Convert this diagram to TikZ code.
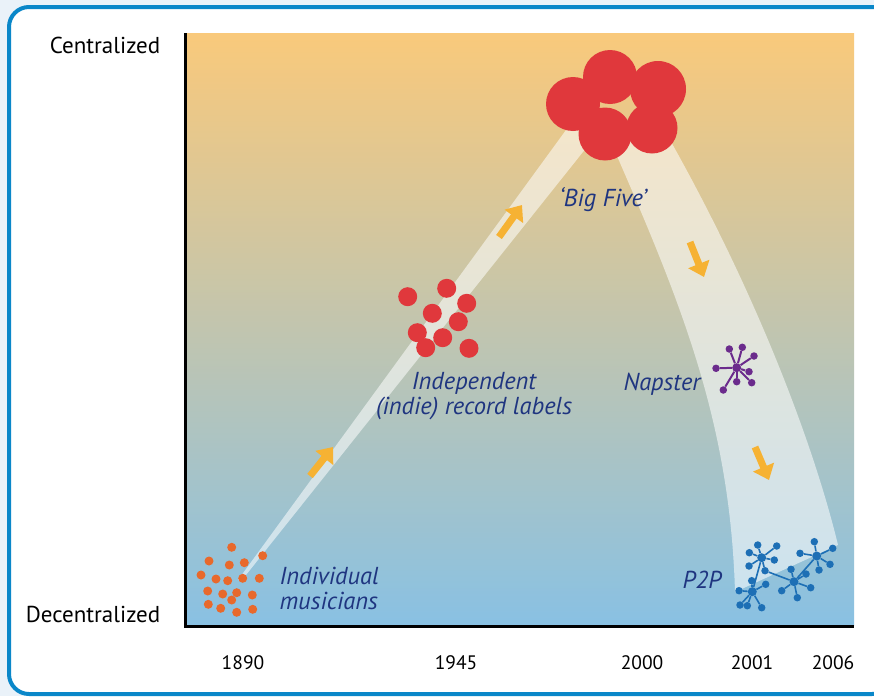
\documentclass[tikz,border=0pt]{standalone}
\usepackage{fontspec}
\setmainfont{PT Sans}
\usetikzlibrary{arrows.meta}
\definecolor{pageblue}{HTML}{EAF2F9}
\definecolor{frameblue}{HTML}{0A87C9}
\definecolor{gradtop}{HTML}{F9C97B}
\definecolor{gradbottom}{HTML}{89C1E3}
\definecolor{musicorange}{HTML}{E8692C}
\definecolor{labelred}{HTML}{E0383C}
\definecolor{napsterpurple}{HTML}{6B2B8C}
\definecolor{ptwopblue}{HTML}{1D6FB5}
\definecolor{arroworange}{HTML}{F6B233}
\definecolor{textblue}{HTML}{1F3580}
\tikzset{
  axislabel/.style={font=\fontsize{23}{25}\selectfont, text=black},
  yearlabel/.style={font=\fontsize{19.5}{21}\selectfont, text=black},
  eralabel/.style={font=\fontsize{24.5}{25}\selectfont\itshape, text=textblue},
  musician/.style={circle, fill=musicorange, inner sep=0pt, minimum size=9pt},
  indie/.style={circle, fill=labelred, inner sep=0pt, minimum size=19pt},
  major/.style={circle, fill=labelred, inner sep=0pt},
  nhub/.style={circle, fill=napsterpurple, inner sep=0pt, minimum size=9pt},
  nleaf/.style={circle, fill=napsterpurple, inner sep=0pt, minimum size=7.5pt},
  phub/.style={circle, fill=ptwopblue, inner sep=0pt, minimum size=9pt},
  pleaf/.style={circle, fill=ptwopblue, inner sep=0pt, minimum size=7.5pt},
  trend/.style={arroworange, line width=7pt, -{Triangle[width=22pt,length=14pt]}},
  band/.style={fill=white, fill opacity=0.55},
}
\begin{document}
\begin{tikzpicture}[x=1pt, y=-1pt]
\useasboundingbox (0,0) rectangle (874,696);
% page and frame
\fill[pageblue] (0,0) rectangle (874,696);
\begin{scope}
  \clip (0,0) rectangle (874,696);
  \draw[frameblue, line width=4pt, fill=white, rounded corners=20pt] (9,7) rectangle (892,694);
\end{scope}
% plot area
\shade[top color=gradtop, bottom color=gradbottom] (185,33) rectangle (854,625);
\draw[line width=3pt] (185,33) -- (185,626) -- (854,626);
% bands
\fill[band] (238,580) -- (566,130) -- (610,118) -- (242,580) -- cycle;
\fill[band] (610,140) .. controls (680,300) and (730,420) .. (735,592)
  -- (838,545) .. controls (815,450) and (760,300) .. (670,140) -- cycle;
% axis labels
\node[axislabel] (cen) at (105,45) {Centralized};
\node[axislabel] (dec) at (93,614) {Decentralized};
\node[yearlabel] (y1) at (243,663) {1890};
\node[yearlabel] (y2) at (456,663) {1945};
\node[yearlabel] (y3) at (642,663) {2000};
\node[yearlabel] (y4) at (752,663) {2001};
\node[yearlabel] (y5) at (833,663) {2006};
% individual musicians
\foreach \x/\y [count=\i] in {231.7/547.3, 209/561, 229.3/565, 244.3/562.7, 262.7/555.7,
  201/575, 216/579, 227.7/580.7, 242.7/578.3, 259.3/578.3, 207.7/591, 222.7/594,
  236.7/592.7, 231.7/600, 252.3/595, 208.3/604.3, 220.7/608.3, 236.7/612.3, 252.7/609.3}
  \node[musician] (mus\i) at (\x,\y) {};
% indie labels
\foreach \x/\y [count=\i] in {407.7/296.7, 446.7/288.3, 466.7/303.3, 432.3/313.3,
  458.3/321.7, 417.3/332.7, 442.7/337.7, 425.7/347.7, 469/348.3}
  \node[indie] (ind\i) at (\x,\y) {};
% big five
\node[major, minimum size=54pt] (big1) at (573,104) {};
\node[major, minimum size=54pt] (big2) at (610,77) {};
\node[major, minimum size=56pt] (big3) at (658,89) {};
\node[major, minimum size=53pt] (big4) at (605,134) {};
\node[major, minimum size=51pt] (big5) at (652,128) {};
% napster
\node[nhub] (nap) at (736.7,367.7) {};
\foreach \x/\y [count=\i] in {729.3/349, 742.3/347.3, 754/356, 716/368.3, 749/371.7,
  736.7/381.7, 751.7/382.7, 723.3/390}
  {\node[nleaf] (nap\i) at (\x,\y) {};
   \draw[napsterpurple, line width=2pt] (nap) -- (nap\i);}
% p2p
\node[phub] (pa) at (761.7,557.7) {};
\node[phub] (pb) at (816.7,556) {};
\node[phub] (pc) at (794,581.7) {};
\node[phub] (pd) at (752.3,591.7) {};
\foreach \h/\x/\y [count=\i] in {pa/757.7/545, pa/776.7/546, pa/749.3/552.7, pa/774.3/560,
  pa/749/566, pa/765/570.7, pb/814.3/541.7, pb/832.7/548.3, pb/800/553.3, pb/830/564.3,
  pb/819/570, pc/791/569.3, pc/781.7/590.7, pc/810.7/587.7, pc/797.3/597.7, pc/806/574,
  pd/751.7/580.7, pd/765.7/584.3, pd/739/590.7, pd/740/605, pd/747.3/605.7, pd/761.7/607.7}
  {\node[pleaf] (pl\i) at (\x,\y) {};
   \draw[ptwopblue, line width=1.6pt] (\h) -- (pl\i);}
\draw[ptwopblue, line width=1.6pt] (pl6) -- (pc) (pa) -- (pd) (pb) -- (pc);
% trend arrows
\draw[trend] (310,476) -- (333,447);
\draw[trend] (499,237) -- (522,205);
\draw[trend] (690,242) -- (704,277);
\draw[trend] (755,447) -- (769,480);
% era labels
\node[eralabel, anchor=west, align=left] (musl) at (276,588) {Individual\\musicians};
\node[eralabel, align=center] (indl) at (474,396) {Independent\\(indie) record labels};
\node[eralabel] (bigl) at (603,200) {‘Big Five’};
\node[eralabel] (napl) at (662,384) {Napster};
\node[eralabel] (ptpl) at (702,580) {P2P};
\end{tikzpicture}
\end{document}
